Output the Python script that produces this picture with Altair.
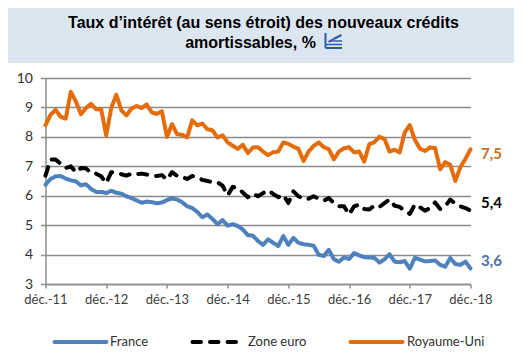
import json
import altair as alt
import pandas as pd

tick_labels = ["déc.-11", "déc.-12", "déc.-13", "déc.-14", "déc.-15", "déc.-16", "déc.-17", "déc.-18"]
series_names = ["France", "Zone euro", "Royaume-Uni"]
series_colors = ["#4F81BD", "#000000", "#E46C0A"]
end_labels = ["3,6", "5,4", "7,5"]
label_colors = ["#4A6FA5", "#000000", "#C9701F"]
label_dy = [-7, -8, 5]

france = [6.37, 6.57, 6.66, 6.67, 6.58, 6.52, 6.49, 6.35, 6.39, 6.23, 6.13, 6.13, 6.09, 6.17, 6.10, 6.07, 5.98, 5.92,
          5.84, 5.76, 5.80, 5.78, 5.74, 5.77, 5.85, 5.91, 5.87, 5.78, 5.64, 5.58, 5.45, 5.27, 5.36, 5.21, 5.03, 5.17,
          4.98, 5.03, 4.97, 4.85, 4.66, 4.64, 4.46, 4.33, 4.52, 4.40, 4.29, 4.63, 4.33, 4.57, 4.40, 4.35, 4.33, 4.30,
          3.99, 3.95, 4.16, 3.84, 3.76, 3.90, 3.85, 4.05, 3.97, 3.91, 3.90, 3.89, 3.73, 3.84, 4.01, 3.76, 3.74, 3.78,
          3.52, 3.89, 3.83, 3.77, 3.78, 3.80, 3.65, 3.59, 3.88, 3.68, 3.65, 3.76, 3.53]
euro = [6.68, 7.23, 7.23, 7.08, 6.94, 7.00, 6.80, 6.94, 6.93, 6.77, 6.75, 6.66, 6.43, 6.80, 6.77, 6.73, 6.68, 6.75,
        6.73, 6.75, 6.72, 6.69, 6.67, 6.70, 6.55, 6.80, 6.68, 6.63, 6.57, 6.67, 6.62, 6.54, 6.50, 6.46, 6.46, 6.34,
        6.01, 6.30, 6.26, 6.11, 5.95, 6.07, 5.98, 6.09, 6.18, 6.06, 5.95, 6.03, 5.75, 6.15, 5.98, 5.89, 5.90, 5.98,
        5.90, 5.83, 5.92, 5.75, 5.64, 5.64, 5.36, 5.64, 5.70, 5.55, 5.53, 5.67, 5.62, 5.75, 5.87, 5.66, 5.62, 5.49,
        5.38, 5.70, 5.61, 5.49, 5.58, 5.77, 5.55, 5.64, 5.87, 5.73, 5.64, 5.58, 5.49]
uk = [8.40, 8.75, 8.92, 8.68, 8.62, 9.53, 9.20, 8.77, 8.98, 9.12, 8.94, 8.94, 8.05, 8.98, 9.43, 8.90, 8.73, 8.96,
      9.05, 8.98, 9.10, 8.83, 8.78, 8.87, 8.00, 8.43, 8.09, 8.07, 7.98, 8.56, 8.39, 8.45, 8.26, 8.22, 7.98, 8.05,
      7.81, 7.70, 7.59, 7.73, 7.45, 7.64, 7.65, 7.50, 7.38, 7.48, 7.50, 7.81, 7.76, 7.67, 7.59, 7.18, 7.50, 7.69,
      7.81, 7.65, 7.58, 7.24, 7.50, 7.61, 7.65, 7.47, 7.50, 7.16, 7.75, 7.82, 8.00, 7.93, 7.50, 7.56, 7.47, 8.15,
      8.40, 7.90, 7.60, 7.52, 7.64, 7.62, 6.90, 7.14, 7.05, 6.50, 6.97, 7.25, 7.58]

title_lines = ["Taux d’intérêt (au sens étroit) des nouveaux crédits", "amortissables, %"]

rows = []
for name, vals in zip(series_names, [france, euro, uk]):
    for i, v in enumerate(vals):
        rows.append({"month": i, "value": v, "series": name})
df = pd.DataFrame(rows)

GRAY = "#8C8C8C"
FONT = "Lato"
W, H = 425, 206
LEFT, TOP = 37.5, 70
TOTAL_W, TOTAL_H = 506, 342
one = alt.Data(values=[{}])

x_scale = alt.Scale(domain=[0, 84], nice=False, zero=False)
y_scale = alt.Scale(domain=[3, 10], nice=False, zero=False)

x_enc = alt.X("month:Q", scale=x_scale, title=None,
              axis=alt.Axis(values=list(range(0, 85, 12)), grid=False, domainColor=GRAY, domainWidth=1.5,
                            tickColor=GRAY, tickWidth=1.5, tickSize=4, labelFont=FONT, labelFontSize=13,
                            labelColor="#404040", labelPadding=5, labelFlush=False, labelOverlap=False,
                            labelBound=False,
                            labelExpr=json.dumps(tick_labels, ensure_ascii=False) + "[datum.value/12]"))
y_enc = alt.Y("value:Q", scale=y_scale, title=None,
              axis=alt.Axis(values=list(range(3, 11)), grid=True, gridColor=GRAY, gridWidth=1.5, domainColor=GRAY,
                            domainWidth=1.5, tickColor=GRAY, tickWidth=1.5, tickSize=5, labelFont=FONT,
                            labelFontSize=14, labelColor="#303030", labelPadding=8, labelOverlap=False,
                            labelFlush=False, labelBound=False))

band = alt.Chart(one).mark_rect(color="#DCE6F1").encode(
    x=alt.value(-LEFT), x2=alt.value(TOTAL_W - LEFT), y=alt.value(-TOP), y2=alt.value(-15))

lines = alt.Chart(df).mark_line(strokeWidth=4, strokeCap="round", strokeJoin="round").encode(
    x=x_enc, y=y_enc,
    color=alt.Color("series:N", scale=alt.Scale(domain=series_names, range=series_colors), legend=None),
    strokeDash=alt.StrokeDash("series:N", scale=alt.Scale(domain=series_names, range=[[1, 0], [9, 9], [1, 0]]),
                              legend=None),
    order="month:Q",
)

layers = [band, lines]

for name, vals, text, col, dy in zip(series_names, [france, euro, uk], end_labels, label_colors, label_dy):
    layers.append(alt.Chart(alt.Data(values=[{"month": 84, "value": vals[-1], "t": text}])).mark_text(
        align="left", baseline="middle", dx=10.5, dy=dy, font=FONT, fontSize=15, fontWeight="bold", color=col
    ).encode(x=x_enc, y=y_enc, text="t:N"))

for line, xc, yc in zip(title_lines, [218, 205], [-55, -35]):
    layers.append(alt.Chart(one).mark_text(
        align="center", baseline="middle", font="Liberation Sans", fontSize=16, fontWeight="bold", color="#000000"
    ).encode(x=alt.value(xc), y=alt.value(yc), text=alt.value(line)))

# small chart icon next to the title
ICON = "#2A5CAA"
icon_segments = [(280, 280, -45, -30, 2), (280, 296.5, -30, -30, 2), (280, 296.5, -33.5, -33.5, 1.5),
                 (283, 288, -36, -39, 2), (288, 296, -39, -43, 2), (284, 296.5, -37, -37, 1.5)]
for x1, x2, y1, y2, sw in icon_segments:
    layers.append(alt.Chart(one).mark_rule(color=ICON, strokeWidth=sw).encode(
        x=alt.value(x1), x2=alt.value(x2), y=alt.value(y1), y2=alt.value(y2)))

# legend row under the plot
LEG_Y = 264
leg_lines = [(9, 61), (147, 191), (305, 357)]
leg_text_x = [64.5, 202.5, 361.5]
leg_dash = [[1, 0], [8.5, 9], [1, 0]]
for name, col, (x1, x2), tx, dash in zip(series_names, series_colors, leg_lines, leg_text_x, leg_dash):
    layers.append(alt.Chart(one).mark_rule(color=col, strokeWidth=4, strokeCap="round", strokeDash=dash).encode(
        x=alt.value(x1), x2=alt.value(x2), y=alt.value(LEG_Y)))
    layers.append(alt.Chart(one).mark_text(
        align="left", baseline="middle", font=FONT, fontSize=13, color="#303030"
    ).encode(x=alt.value(tx), y=alt.value(LEG_Y), text=alt.value(name)))

chart = alt.layer(*layers).properties(
    width=W, height=H,
    padding={"left": LEFT, "top": TOP, "right": TOTAL_W - LEFT - W, "bottom": TOTAL_H - TOP - H},
    autosize=alt.AutoSizeParams(type="none"),
    background="#FFFFFF",
).configure_view(stroke=None)

chart.save("out.html", embed_options={"renderer": "svg", "actions": False})
